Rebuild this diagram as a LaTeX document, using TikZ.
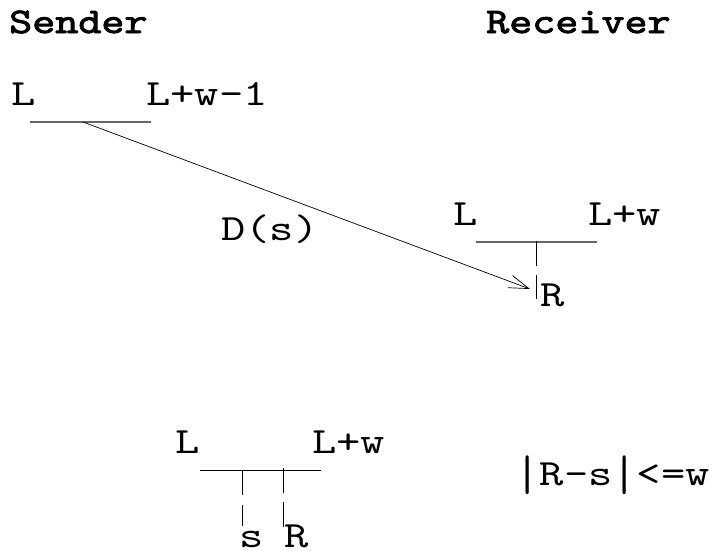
\documentclass[tikz,border=0pt]{standalone}
\usepackage{fontspec}
\usepackage{graphicx}
\newfontfamily\cour[Extension=.otf,FakeStretch=1.25]{lmmono10-regular}
\newfontfamily\courb[Extension=.otf,FakeStretch=1.22,FakeBold=2.5]{lmmono10-regular}
\newcommand\tallbar{\raisebox{-0.14em}{\scalebox{1}[1.35]{|}}}
\usetikzlibrary{arrows.meta}
\begin{document}
\begin{tikzpicture}[x=1pt,y=-1pt,
  lbl/.style={inner sep=0pt,anchor=base west,font=\cour\fontsize{37}{37}\selectfont},
  ttl/.style={inner sep=0pt,anchor=base west,font=\courb\fontsize{36}{36}\selectfont},
  win/.style={draw=black!60,line width=1.1pt},
  winb/.style={draw=black,line width=0.9pt},
  tick/.style={draw=black,line width=0.7pt},
  msg/.style={draw=black,line width=0.7pt,-{Straight Barb[length=20pt,width=13pt,line width=0.7pt]}}]
\useasboundingbox (0,0) rectangle (713,550);
% titles
\node[ttl] (sender) at (9,33) {Sender};
\node[ttl] (receiver) at (486,33) {Receiver};
% sender window
\node[lbl] (sL) at (11,105) {L};
\node[lbl] (sLw) at (146,105) {L+w-1};
\coordinate (sa) at (30,122);
\coordinate (sb) at (151,122);
\draw[win] (sa) -- (sb);
\coordinate (src) at (83,122);
% receiver window
\node[lbl] (rL) at (453,225) {L};
\node[lbl] (rLw) at (588,225) {L+w};
\coordinate (ra) at (476,242);
\coordinate (rb) at (597,242);
\draw[win] (ra) -- (rb);
\coordinate (rt1) at (536,241);
\coordinate (rt2) at (536,266);
\coordinate (rt3) at (536,275);
\coordinate (rt4) at (536,299);
\draw[tick] (rt1) -- (rt2);
\draw[tick] (rt3) -- (rt4);
\node[lbl] (rR) at (540,306) {R};
\coordinate (dst) at (530,289);
\draw[msg] (src) -- (dst);
\node[lbl] (Ds) at (221,240) {D(s)};
% bottom window
\node[lbl] (bL) at (175,453) {L};
\node[lbl] (bLw) at (312,453) {L+w};
\coordinate (ba) at (200,470);
\coordinate (bb) at (321,470);
\draw[winb] (ba) -- (bb);
\coordinate (bs1) at (242,470);
\coordinate (bs2) at (242,495);
\coordinate (bs3) at (242,505);
\coordinate (bs4) at (242,526);
\draw[tick] (bs1) -- (bs2);
\draw[tick] (bs3) -- (bs4);
\coordinate (br1) at (283,468);
\coordinate (br2) at (283,493);
\coordinate (br3) at (283,502);
\coordinate (br4) at (283,527);
\draw[tick] (br1) -- (br2);
\draw[tick] (br3) -- (br4);
\node[lbl] (bs) at (239,547) {s};
\node[lbl] (bR) at (284,547) {R};
\node[lbl,anchor=base east] (cond) at (710,485) {\tallbar R-s\tallbar<=w};
\end{tikzpicture}
\end{document}
